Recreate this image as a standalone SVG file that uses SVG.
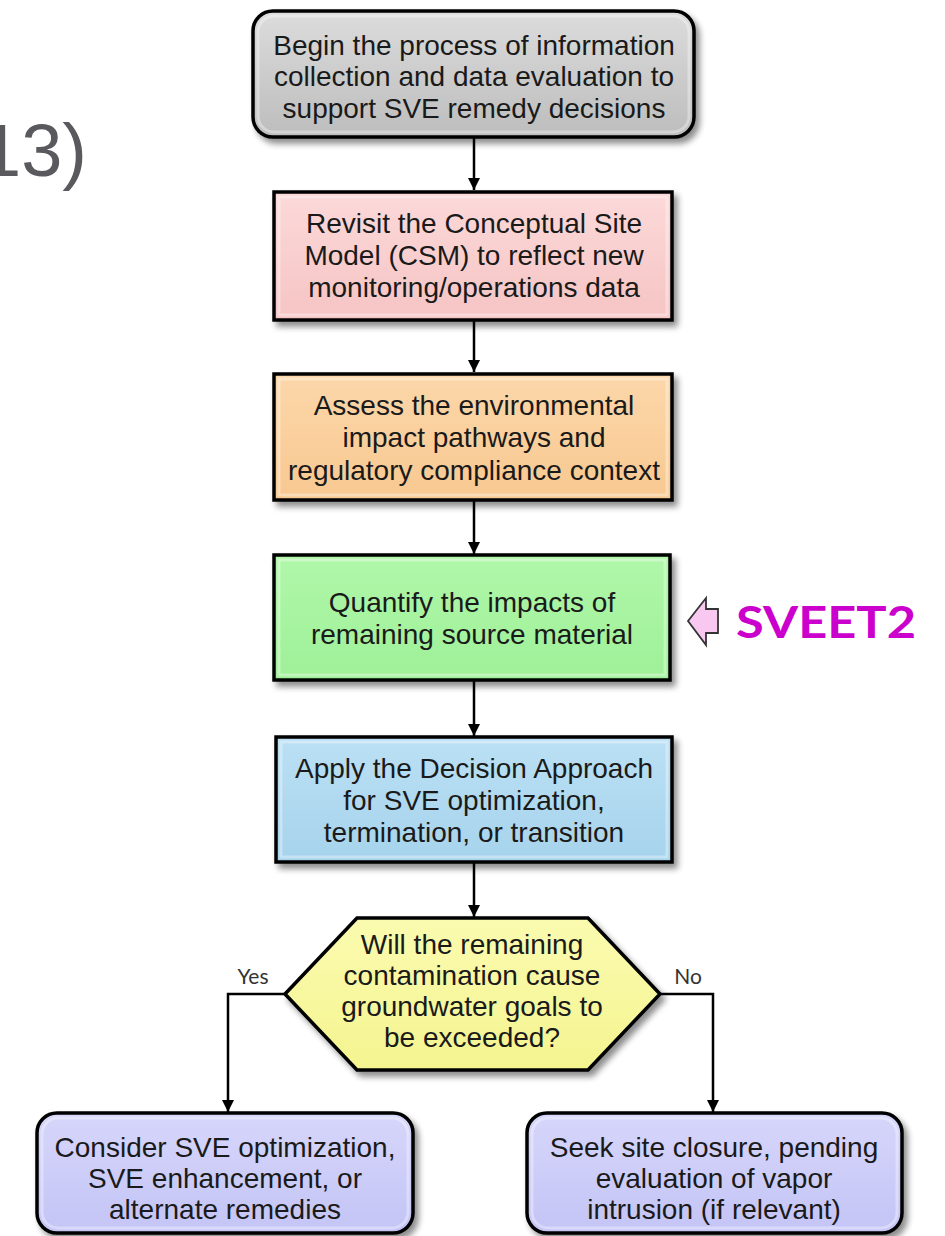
<svg xmlns="http://www.w3.org/2000/svg" width="945" height="1236" viewBox="0 0 945 1236">
  <style>
    .box { stroke: #000; stroke-width: 3.5; filter: url(#shadow); }
    .bevel { fill: none; stroke: #fff; stroke-opacity: 0.35; stroke-width: 3; }
    .lbl { font-family: "Liberation Sans", Arial, sans-serif; font-size: 28px; fill: #1a1a1a; text-anchor: middle; }
    .yn { font-family: "Lato", "Open Sans", sans-serif; font-size: 21px; fill: #333; text-anchor: middle; }
    .wire { fill: none; stroke: #000; stroke-width: 2.5; marker-end: url(#head); }
  </style>
  <defs>
    <filter id="shadow" x="-10%" y="-10%" width="125%" height="130%">
      <feGaussianBlur in="SourceAlpha" stdDeviation="3"/>
      <feOffset dx="4" dy="5" result="b"/>
      <feComponentTransfer><feFuncA type="linear" slope="0.45"/></feComponentTransfer>
      <feMerge><feMergeNode/><feMergeNode in="SourceGraphic"/></feMerge>
    </filter>
    <linearGradient id="gGray" x1="0" y1="0" x2="0" y2="1">
      <stop offset="0" stop-color="#dcdcdc"/><stop offset="1" stop-color="#bdbdbd"/>
    </linearGradient>
    <linearGradient id="gPink" x1="0" y1="0" x2="0" y2="1">
      <stop offset="0" stop-color="#fcd9d9"/><stop offset="1" stop-color="#f6c4c4"/>
    </linearGradient>
    <linearGradient id="gOrange" x1="0" y1="0" x2="0" y2="1">
      <stop offset="0" stop-color="#fcd7aa"/><stop offset="1" stop-color="#f8c890"/>
    </linearGradient>
    <linearGradient id="gGreen" x1="0" y1="0" x2="0" y2="1">
      <stop offset="0" stop-color="#b0f7aa"/><stop offset="1" stop-color="#9ef098"/>
    </linearGradient>
    <linearGradient id="gBlue" x1="0" y1="0" x2="0" y2="1">
      <stop offset="0" stop-color="#bbe0f4"/><stop offset="1" stop-color="#a6d3ec"/>
    </linearGradient>
    <linearGradient id="gYellow" x1="0" y1="0" x2="0" y2="1">
      <stop offset="0" stop-color="#fbfbb0"/><stop offset="1" stop-color="#f4f490"/>
    </linearGradient>
    <linearGradient id="gLav" x1="0" y1="0" x2="0" y2="1">
      <stop offset="0" stop-color="#d6d6fb"/><stop offset="1" stop-color="#c4c4f6"/>
    </linearGradient>
    <marker id="head" viewBox="0 0 10 10" refX="10" refY="5" markerWidth="5" markerHeight="5" orient="auto" markerUnits="strokeWidth">
      <path d="M0,0 L10,5 L0,10 z" fill="#000"/>
    </marker>
  </defs>

  <rect width="945" height="1236" fill="#fff"/>

  <!-- partial heading at the left edge -->
  <text x="87" y="176" font-family="Liberation Sans, Arial, sans-serif" font-size="74" fill="#5a5a5e" text-anchor="end">13)</text>

  <!-- connectors -->
  <g id="connectors">
    <line class="wire" x1="474" y1="137" x2="474" y2="190"/>
    <line class="wire" x1="474" y1="320" x2="474" y2="372"/>
    <line class="wire" x1="474" y1="500" x2="474" y2="554"/>
    <line class="wire" x1="474" y1="680" x2="474" y2="736"/>
    <line class="wire" x1="474" y1="862" x2="474" y2="917"/>
    <polyline class="wire" points="285,994 228,994 228,1112"/>
    <polyline class="wire" points="660,994 713,994 713,1112"/>
  </g>

  <g id="start">
    <rect class="box" x="253" y="11" width="441" height="126" rx="20" fill="url(#gGray)"/>
    <rect class="bevel" x="258" y="16" width="431" height="116" rx="16"/>
    <text class="lbl" x="474" y="55">Begin the process of information</text>
    <text class="lbl" x="474" y="86">collection and data evaluation to</text>
    <text class="lbl" x="474" y="118">support SVE remedy decisions</text>
  </g>

  <g id="revisit-csm">
    <rect class="box" x="274" y="192" width="398" height="128" fill="url(#gPink)"/>
    <rect class="bevel" x="279" y="197" width="388" height="118"/>
    <text class="lbl" x="474" y="233">Revisit the Conceptual Site</text>
    <text class="lbl" x="474" y="265">Model (CSM) to reflect new</text>
    <text class="lbl" x="474" y="297">monitoring/operations data</text>
  </g>

  <g id="assess">
    <rect class="box" x="274" y="374" width="398" height="126" fill="url(#gOrange)"/>
    <rect class="bevel" x="279" y="379" width="388" height="116"/>
    <text class="lbl" x="474" y="415">Assess the environmental</text>
    <text class="lbl" x="474" y="447">impact pathways and</text>
    <text class="lbl" x="474" y="480">regulatory compliance context</text>
  </g>

  <g id="quantify">
    <rect class="box" x="274" y="555" width="396" height="125" fill="url(#gGreen)"/>
    <rect class="bevel" x="279" y="560" width="386" height="115"/>
    <text class="lbl" x="472" y="612">Quantify the impacts of</text>
    <text class="lbl" x="472" y="644">remaining source material</text>
  </g>

  <g id="sveet2">
    <polygon points="688,621 706,598 706,609 718,609 718,633 706,633 706,645" fill="#f9c8f0" stroke="#333" stroke-width="1.8" stroke-linejoin="miter"/>
    <text x="736" y="638" font-family="Lato, 'Open Sans', sans-serif" font-weight="bold" font-size="44" fill="#cc00cc" textLength="180" lengthAdjust="spacingAndGlyphs">SVEET2</text>
  </g>

  <g id="decision-approach">
    <rect class="box" x="276" y="737" width="396" height="125" fill="url(#gBlue)"/>
    <rect class="bevel" x="281" y="742" width="386" height="115"/>
    <text class="lbl" x="474" y="778">Apply the Decision Approach</text>
    <text class="lbl" x="474" y="810">for SVE optimization,</text>
    <text class="lbl" x="474" y="842">termination, or transition</text>
  </g>

  <g id="groundwater-question">
    <polygon class="box" points="285,994 357,918 588,918 660,994 588,1070 357,1070" fill="url(#gYellow)"/>
    <text class="lbl" x="472" y="954">Will the remaining</text>
    <text class="lbl" x="472" y="985">contamination cause</text>
    <text class="lbl" x="472" y="1016">groundwater goals to</text>
    <text class="lbl" x="472" y="1047">be exceeded?</text>
    <text class="yn" x="253" y="984">Yes</text>
    <text class="yn" x="688" y="984">No</text>
  </g>

  <g id="optimize">
    <rect class="box" x="37" y="1113" width="376" height="120" rx="20" fill="url(#gLav)"/>
    <rect class="bevel" x="42" y="1118" width="366" height="110" rx="16"/>
    <text class="lbl" x="225" y="1157">Consider SVE optimization,</text>
    <text class="lbl" x="225" y="1188">SVE enhancement, or</text>
    <text class="lbl" x="225" y="1219">alternate remedies</text>
  </g>

  <g id="closure">
    <rect class="box" x="527" y="1113" width="375" height="120" rx="20" fill="url(#gLav)"/>
    <rect class="bevel" x="532" y="1118" width="365" height="110" rx="16"/>
    <text class="lbl" x="714" y="1157">Seek site closure, pending</text>
    <text class="lbl" x="714" y="1188">evaluation of vapor</text>
    <text class="lbl" x="714" y="1219">intrusion (if relevant)</text>
  </g>
</svg>
